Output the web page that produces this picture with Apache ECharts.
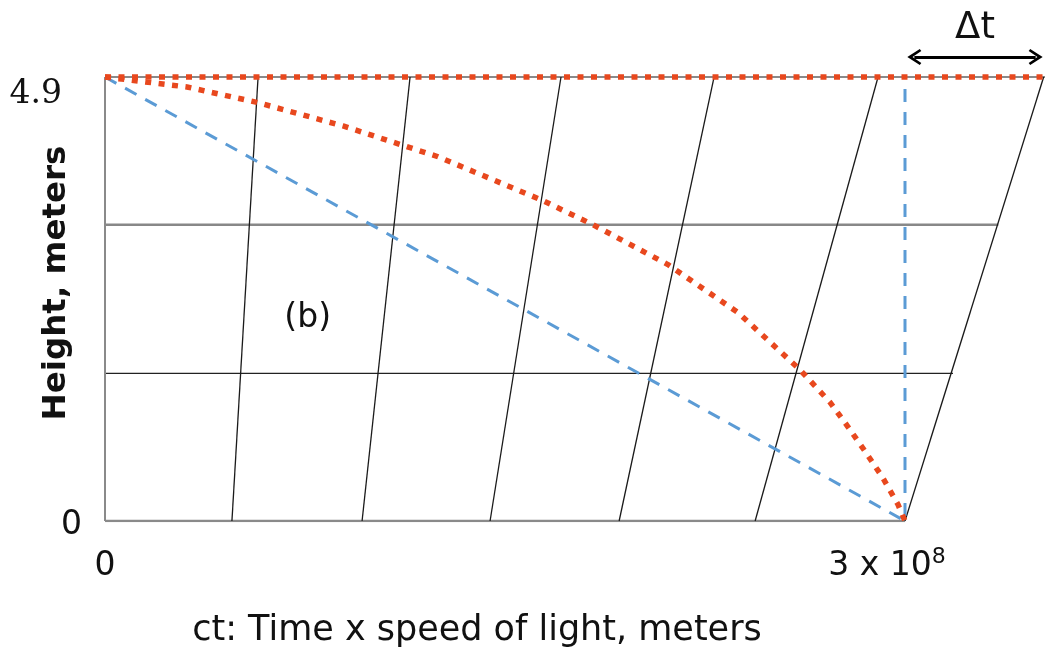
<!DOCTYPE html>
<html><head><meta charset="utf-8">
<script src="https://cdn.jsdelivr.net/npm/echarts@6/dist/echarts.min.js"></script>
<style>html,body{margin:0;padding:0;background:#fff}#c{width:1047px;height:650px}</style>
</head><body><div id="c"></div>
<script>
// ---- data ----
const xTicks = [0, 3e8];
const yTicks = [0, 4.9];
const slantBottomX = [0, 47.6e6, 96.4e6, 144.4e6, 192.8e6, 243.8e6, 300e6];
const slantTopX = [0, 57.4e6, 114.4e6, 171.0e6, 228.4e6, 289.9e6, 352e6];
const hLevels = [4.9, 3.27, 1.63, 0];
const hEndX = [352.5e6, 335e6, 318e6, 300e6];
const curveX = [0, 30.75e6, 57e6, 89.25e6, 124.9e6, 163.9e6, 183e6, 211.1e6, 237.4e6, 260.6e6, 271.9e6, 278.6e6, 285e6, 291.4e6, 297.4e6, 300e6];
const curveY = [4.9, 4.79, 4.62, 4.36, 4.02, 3.54, 3.27, 2.83, 2.30, 1.67, 1.31, 1.04, 0.77, 0.49, 0.18, 0];
const straightX = [0, 3e8, 3e8];
const straightY = [4.9, 0, 4.9];
const dtArrowX = [303.5e6, 349e6];
const dtArrowY = 5.12;
const labelB = { x: 76e6, y: 2.24, text: '(b)' };
const xTitle = 'ct: Time x speed of light, meters';
const yTitle = 'Height, meters';

const RED = '#E8481E', BLUE = '#5B9BD5';
const SANS = '"DejaVu Sans", sans-serif';

const series = [];
// horizontal grid lines
const hStyles = [
  { color: '#8a8a8a', width: 2 },
  { color: '#888888', width: 2.5 },
  { color: '#222222', width: 1.2 },
  { color: '#8a8a8a', width: 2.5 }
];
hLevels.forEach((lv, i) => {
  series.push({
    type: 'line', silent: true, symbol: 'none', z: 1,
    data: [[0, lv], [hEndX[i], lv]],
    lineStyle: hStyles[i]
  });
});
// slanted lines
slantBottomX.forEach((bx, i) => {
  series.push({
    type: 'line', silent: true, symbol: 'none', z: 1,
    data: [[bx, 0], [slantTopX[i], hLevels[0]]],
    lineStyle: i === 0 ? { color: '#8a8a8a', width: 2 } : { color: '#1a1a1a', width: 1.3 }
  });
});
// blue dashed path
series.push({
  type: 'line', silent: true, symbol: 'none', z: 3,
  data: straightX.map((x, i) => [x, straightY[i]]),
  lineStyle: { color: BLUE, width: 3, type: [13, 10] }
});
const ARROW = 'path://M0,12 L6,0 L12,12 L10.5,13.5 L6,5 L1.5,13.5 Z';
// red dotted top line (+ delta-t arrow)
series.push({
  type: 'line', silent: true, symbol: 'none', z: 4,
  data: [[0, 4.9], [hEndX[0], 4.9]],
  lineStyle: { color: RED, width: 5.5, type: [6, 7.5] },
  markLine: {
    silent: true, symbol: [ARROW, ARROW],
    symbolSize: [16, 14],
    lineStyle: { color: '#000', width: 3, type: 'solid' },
    label: { show: true, position: 'insideMiddleTop', formatter: 'Δt', fontFamily: SANS, fontSize: 37, color: '#111', distance: 10 },
    data: [[{ coord: [dtArrowX[0], dtArrowY] }, { coord: [dtArrowX[1], dtArrowY] }]]
  }
});
// red dotted curve
series.push({
  type: 'line', silent: true, symbol: 'none', z: 5,
  data: curveX.map((x, i) => [x, curveY[i]]),
  lineStyle: { color: RED, width: 5.5, type: [6, 7.5] },
  markPoint: {
    silent: true, symbol: 'circle', symbolSize: 0,
    label: { show: true, position: 'inside', formatter: labelB.text, fontFamily: SANS, fontSize: 33, color: '#111' },
    data: [{ coord: [labelB.x, labelB.y] }]
  }
});

const chart = echarts.init(document.getElementById('c'));
chart.setOption({
  animation: false,
  backgroundColor: '#fff',
  grid: { left: 105, top: 55, width: 940, bottom: 129, outerBoundsMode: 'none', containLabel: false },
  xAxis: {
    type: 'value', min: xTicks[0], max: hEndX[0], interval: xTicks[1],
    axisLine: { show: false }, axisTick: { show: false }, splitLine: { show: false },
    axisLabel: {
      margin: 25, showMaxLabel: false, color: '#111',
      formatter: v => v === 0 ? '{z|0}' : '{m|3 x 10}{sup|8}',
      rich: {
        z: { fontFamily: SANS, fontSize: 33, lineHeight: 40 },
        m: { fontFamily: SANS, fontSize: 33, lineHeight: 40 },
        sup: { fontFamily: SANS, fontSize: 22, lineHeight: 22, verticalAlign: 'top', padding: [0, 36, 0, 0] }
      }
    },
    name: xTitle, nameLocation: 'middle', nameGap: 92, nameMoveOverlap: false,
    nameTextStyle: { fontFamily: SANS, fontSize: 35, color: '#111', padding: [0, 196, 0, 0] }
  },
  yAxis: {
    type: 'value', min: yTicks[0], max: 5.143, interval: yTicks[1],
    axisLine: { show: false }, axisTick: { show: false }, splitLine: { show: false },
    axisLabel: {
      margin: 23, showMaxLabel: false, color: '#111',
      formatter: v => v === 0 ? '{z|0}' : '{s|4.9}',
      rich: {
        z: { fontFamily: SANS, fontSize: 33, padding: [8, 0, 0, 0] },
        s: { fontFamily: '"DejaVu Serif", serif', fontSize: 33, padding: [34, 20, 0, 0] }
      }
    },
    name: yTitle, nameLocation: 'middle', nameGap: 32, nameRotate: 90, nameMoveOverlap: false,
    nameTextStyle: { fontFamily: SANS, fontSize: 32.5, fontWeight: 'bold', color: '#111', padding: [0, 0, 0, 10] }
  },
  series: series
});
</script></body></html>
